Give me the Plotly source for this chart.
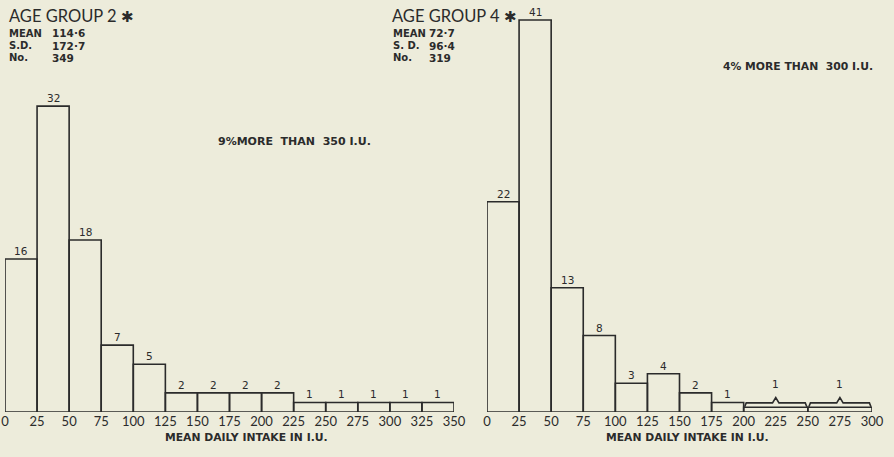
import plotly.graph_objects as go

# ---------------- data ----------------
left_bin_starts = [0, 25, 50, 75, 100, 125, 150, 175, 200, 225, 250, 275, 300, 325]
left_bin_widths = [25] * 14
left_counts = [16, 32, 18, 7, 5, 2, 2, 2, 2, 1, 1, 1, 1, 1]
left_labels = ["16", "32", "18", "7", "5", "2", "2", "2", "2", "1", "1", "1", "1", "1"]

right_bin_starts = [0, 25, 50, 75, 100, 125, 150, 175, 200, 250]
right_bin_widths = [25, 25, 25, 25, 25, 25, 25, 25, 50, 50]
right_heights = [22, 41, 13, 8, 3, 4, 2, 1, 0.5, 0.5]   # per-25 I.U. height (wide bins spread)
right_labels = ["22", "41", "13", "8", "3", "4", "2", "1", "1", "1"]
right_braced = [False] * 8 + [True, True]

left_ticks = list(range(0, 351, 25))
right_ticks = list(range(0, 301, 25))

left_stats = [("MEAN", "114·6"), ("S.D.", "172·7"), ("No.", "349")]
right_stats = [("MEAN", "72·7"), ("S. D.", "96·4"), ("No.", "319")]

# ---------------- style ----------------
W, H = 894, 457
BG = "#edecdb"
INK = "#2b2b2b"
FONT = "Lato"
SMALL = "DejaVu Sans"
YMAX = 43.1

fig = go.Figure()

def add_hist(starts, widths, heights, xa, ya):
    fig.add_trace(go.Bar(
        x=starts, y=heights, width=widths, offset=0,
        marker=dict(color="rgba(0,0,0,0)", line=dict(color=INK, width=1.6)),
        xaxis=xa, yaxis=ya, showlegend=False, hoverinfo="skip",
    ))

add_hist(left_bin_starts, left_bin_widths, left_counts, "x", "y")
add_hist(right_bin_starts, right_bin_widths, right_heights, "x2", "y2")

annotations = []

def add_labels(starts, widths, heights, labels, xref, yref, braced=None):
    for i, (s, w, h, lab) in enumerate(zip(starts, widths, heights, labels)):
        br = braced[i] if braced else False
        annotations.append(dict(
            x=s + w / 2, y=h, xref=xref, yref=yref, text=lab, showarrow=False,
            yanchor="bottom", yshift=(15 if br else 0),
            font=dict(family=SMALL, size=10.5, color=INK),
        ))

add_labels(left_bin_starts, left_bin_widths, left_counts, left_labels, "x", "y")
add_labels(right_bin_starts, right_bin_widths, right_heights, right_labels, "x2", "y2", right_braced)

# braces over the wide bins (built from the bin edges / heights)
for s, w, h, br in zip(right_bin_starts, right_bin_widths, right_heights, right_braced):
    if not br:
        continue
    lift, peak, c = 0.45, 0.55, 2.5
    m = s + w / 2
    xs = [s + 0.8, s + 2.0, m - c, m, m + c, s + w - 2.0, s + w - 0.8]
    ys = [h + 0.05, h + lift, h + lift, h + lift + peak, h + lift, h + lift, h + 0.05]
    fig.add_trace(go.Scatter(x=xs, y=ys, mode="lines", line=dict(color=INK, width=1.6),
                             xaxis="x2", yaxis="y2", showlegend=False, hoverinfo="skip"))

def px_x(p):
    return p / W

def px_y(p):
    return 1 - p / H

def txt(x, y, s, size, family=SMALL, bold=False, xanchor="left"):
    annotations.append(dict(
        x=px_x(x), y=px_y(y), xref="paper", yref="paper", text=s, showarrow=False,
        xanchor=xanchor, yanchor="middle",
        font=dict(family=family, size=size, color=INK, weight=("bold" if bold else "normal")),
    ))

# headers
txt(7, 16, "AGE GROUP 2 <span style='font-size:15px'>✱</span>", 16.5, FONT)
for i, (k, v) in enumerate(left_stats):
    txt(7, 33 + 12.5 * i, k, 10, SMALL, True)
    txt(50, 33 + 12.5 * i, v, 10.5, SMALL, True)

txt(390, 16, "AGE GROUP 4 <span style='font-size:15px'>✱</span>", 16.5, FONT)
for i, (k, v) in enumerate(right_stats):
    txt(391, 33 + 12.5 * i, k, 10, SMALL, True)
    txt(427, 33 + 12.5 * i, v, 10.5, SMALL, True)

txt(216, 141, "9%MORE  THAN  350 I.U.", 11, SMALL, True)
txt(721, 66, "4% MORE THAN  300 I.U.", 10.8, SMALL, True)

# axis titles
txt(246, 437, "MEAN DAILY INTAKE IN I.U.", 10.8, SMALL, True, "center")
txt(687, 437, "MEAN DAILY INTAKE IN I.U.", 10.8, SMALL, True, "center")

xcommon = dict(
    showgrid=False, zeroline=False, showline=False, ticks="", automargin=False,
    tickfont=dict(family=FONT, size=13, color=INK), tickmode="array",
    fixedrange=True,
)
ycommon = dict(visible=False, range=[0, YMAX], showgrid=False, zeroline=False,
               domain=[45 / H, 1], automargin=False)

fig.update_layout(
    width=W, height=H,
    margin=dict(l=0, r=0, t=0, b=0, autoexpand=False),
    paper_bgcolor=BG, plot_bgcolor=BG,
    barmode="overlay",
    xaxis=dict(**xcommon, domain=[5 / W, 454 / W], range=[0, 350],
               tickvals=left_ticks, ticktext=[str(t) for t in left_ticks]),
    yaxis=dict(**ycommon, anchor="x"),
    xaxis2=dict(**xcommon, domain=[487 / W, 872 / W], range=[0, 300],
                tickvals=right_ticks, ticktext=[str(t) for t in right_ticks], anchor="y2"),
    yaxis2=dict(**ycommon, anchor="x2"),
    annotations=annotations,
)

fig.write_html(
    "out.html",
    config={"displayModeBar": False},
    post_script="document.body.style.margin='0';document.body.style.background='" + BG + "';",
)
